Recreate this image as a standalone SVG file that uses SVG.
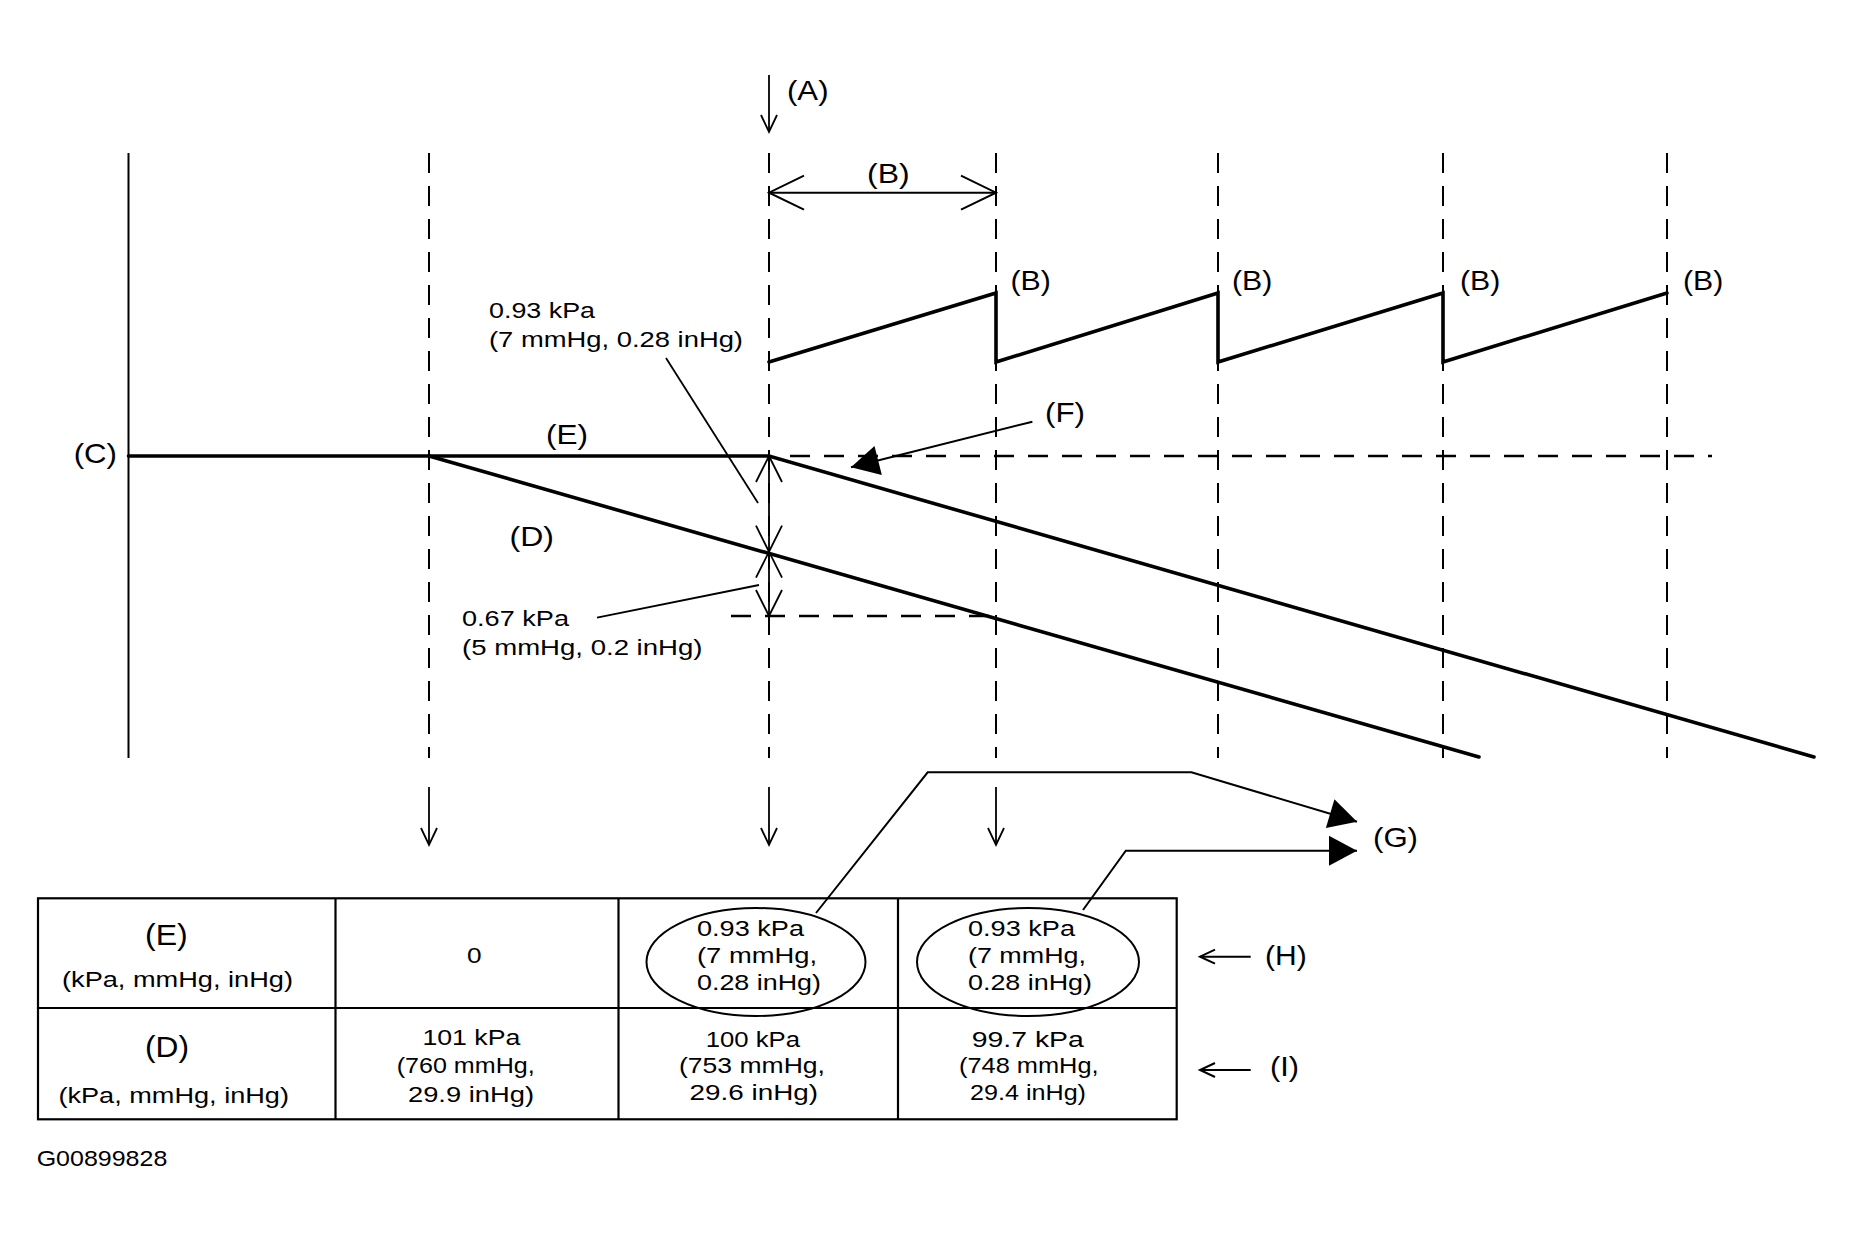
<svg xmlns="http://www.w3.org/2000/svg" width="1853" height="1242" viewBox="0 0 1853 1242">
<style>
.t{font-family:"Liberation Sans",Arial,Helvetica,sans-serif;font-size:22px;fill:#000}
.l{font-family:"Liberation Sans",Arial,Helvetica,sans-serif;font-size:28px;fill:#000}
.h{font-family:"Liberation Sans",Arial,Helvetica,sans-serif;font-size:29px;fill:#000}
.thick{stroke:#000;stroke-width:3.6;fill:none;stroke-linecap:round;stroke-linejoin:miter}
.thin{stroke:#000;stroke-width:2;fill:none}
.lead{stroke:#000;stroke-width:1.8;fill:none}
.dash{stroke:#000;stroke-width:2;fill:none;stroke-dasharray:20 13}
.dashh{stroke:#000;stroke-width:2.6;fill:none;stroke-dasharray:20 14}
.box{stroke:#000;stroke-width:2.2;fill:none}
</style>
<defs>
<marker id="vS" markerUnits="userSpaceOnUse" markerWidth="24" markerHeight="24" viewBox="-20 -12 24 24" refX="0" refY="0" orient="auto" overflow="visible"><path d="M-17,-8 L0,0 L-17,8" fill="none" stroke="#000" stroke-width="1.8"/></marker>
<marker id="vB" markerUnits="userSpaceOnUse" markerWidth="40" markerHeight="40" viewBox="-38 -20 40 40" refX="0" refY="0" orient="auto-start-reverse" overflow="visible"><path d="M-35,-17 L0,0 L-35,17" fill="none" stroke="#000" stroke-width="2"/></marker>
<marker id="vD" markerUnits="userSpaceOnUse" markerWidth="30" markerHeight="30" viewBox="-28 -15 30 30" refX="0" refY="0" orient="auto-start-reverse" overflow="visible"><path d="M-26,-13 L0,0 L-26,13" fill="none" stroke="#000" stroke-width="1.8"/></marker>
<marker id="vH" markerUnits="userSpaceOnUse" markerWidth="20" markerHeight="20" viewBox="-18 -10 20 20" refX="0" refY="0" orient="auto" overflow="visible"><path d="M-15,-7 L0,0 L-15,7" fill="none" stroke="#000" stroke-width="2"/></marker>
<marker id="fT" markerUnits="userSpaceOnUse" markerWidth="32" markerHeight="32" viewBox="-30 -16 32 32" refX="0" refY="0" orient="auto" overflow="visible"><path d="M-28,-15 L0,0 L-28,15 Z" fill="#000"/></marker>
</defs>

<g id="axes">
<line class="thin" x1="128.5" y1="153" x2="128.5" y2="758"/>
<line class="dash" x1="429" y1="153" x2="429" y2="758"/>
<line class="dash" x1="769" y1="153" x2="769" y2="758"/>
<line class="dash" x1="996" y1="153" x2="996" y2="758"/>
<line class="dash" x1="1218" y1="153" x2="1218" y2="758"/>
<line class="dash" x1="1443" y1="153" x2="1443" y2="758"/>
<line class="dash" x1="1667" y1="153" x2="1667" y2="758"/>
<line class="dashh" x1="790" y1="456" x2="1712" y2="456"/>
<line class="dashh" x1="731" y1="616" x2="994" y2="616"/>
</g>

<g id="curves">
<path id="curve-E" class="thick" d="M128.5,456 L769,456 L1814,757"/>
<path id="curve-D" class="thick" d="M429,456 L1479,757"/>
<path id="sawtooth" class="thick" d="M769,362 L996,293 L996,362 L1218,293 L1218,362 L1443,293 L1443,362 L1667,293"/>
</g>

<g id="connectors">
<line class="lead" x1="769" y1="75" x2="769" y2="132" marker-end="url(#vS)"/>
<line class="thin" x1="769" y1="192.7" x2="996" y2="192.7" marker-start="url(#vB)" marker-end="url(#vB)"/>
<line class="lead" x1="769" y1="456" x2="769" y2="551.7" marker-start="url(#vD)" marker-end="url(#vD)"/>
<line class="lead" x1="769" y1="551.7" x2="769" y2="616" marker-start="url(#vD)" marker-end="url(#vD)"/>
<line class="lead" x1="666" y1="358" x2="758" y2="503"/>
<line class="lead" x1="597" y1="617.7" x2="759" y2="585"/>
<line class="thin" x1="1032.4" y1="421.7" x2="851" y2="467.3" marker-end="url(#fT)"/>
<line class="lead" x1="429" y1="787" x2="429" y2="845" marker-end="url(#vS)"/>
<line class="lead" x1="769" y1="787" x2="769" y2="845" marker-end="url(#vS)"/>
<line class="lead" x1="996" y1="787" x2="996" y2="845" marker-end="url(#vS)"/>
<polyline class="thin" points="816,913 927.7,772.3 1191.4,772.3 1357,821.7" marker-end="url(#fT)"/>
<polyline class="thin" points="1083,910 1125.8,850.7 1357,850.7" marker-end="url(#fT)"/>
<line class="thin" x1="1250.7" y1="956.7" x2="1200" y2="956.7" marker-end="url(#vH)"/>
<line class="thin" x1="1250.7" y1="1070" x2="1200" y2="1070" marker-end="url(#vH)"/>
</g>

<g id="labels">
<text class="l" x="787" y="100" textLength="41.5" lengthAdjust="spacingAndGlyphs">(A)</text>
<text class="l" x="867" y="183" textLength="42.6" lengthAdjust="spacingAndGlyphs">(B)</text>
<text class="l" x="1010.5" y="290" textLength="40.3" lengthAdjust="spacingAndGlyphs">(B)</text>
<text class="l" x="1232" y="290" textLength="40.3" lengthAdjust="spacingAndGlyphs">(B)</text>
<text class="l" x="1460" y="290" textLength="40.3" lengthAdjust="spacingAndGlyphs">(B)</text>
<text class="l" x="1683" y="290" textLength="40.3" lengthAdjust="spacingAndGlyphs">(B)</text>
<text class="l" x="73.7" y="463" textLength="43.3" lengthAdjust="spacingAndGlyphs">(C)</text>
<text class="l" x="546" y="443.5" textLength="42" lengthAdjust="spacingAndGlyphs">(E)</text>
<text class="l" x="509.6" y="546" textLength="44.4" lengthAdjust="spacingAndGlyphs">(D)</text>
<text class="l" x="1045" y="421.7" textLength="40" lengthAdjust="spacingAndGlyphs">(F)</text>
<text class="l" x="1373" y="847" textLength="45" lengthAdjust="spacingAndGlyphs">(G)</text>
<text class="l" x="1265" y="965" textLength="41.7" lengthAdjust="spacingAndGlyphs">(H)</text>
<text class="l" x="1270" y="1076" textLength="29" lengthAdjust="spacingAndGlyphs">(I)</text>
<text class="t" x="489" y="318" textLength="106" lengthAdjust="spacingAndGlyphs">0.93 kPa</text>
<text class="t" x="489" y="347" textLength="254" lengthAdjust="spacingAndGlyphs">(7 mmHg, 0.28 inHg)</text>
<text class="t" x="462" y="625.5" textLength="107" lengthAdjust="spacingAndGlyphs">0.67 kPa</text>
<text class="t" x="462" y="655" textLength="240.5" lengthAdjust="spacingAndGlyphs">(5 mmHg, 0.2 inHg)</text>
<text class="t" x="36.7" y="1166" textLength="130.6" lengthAdjust="spacingAndGlyphs">G00899828</text>
</g>

<g id="table">
<rect class="box" x="38" y="898.3" width="1138.7" height="221"/>
<line class="box" x1="38" y1="1008" x2="1176.7" y2="1008"/>
<line class="box" x1="335.5" y1="898.3" x2="335.5" y2="1119.3"/>
<line class="box" x1="618.5" y1="898.3" x2="618.5" y2="1119.3"/>
<line class="box" x1="898" y1="898.3" x2="898" y2="1119.3"/>
<ellipse class="thin" cx="756" cy="962" rx="109.5" ry="54"/>
<ellipse class="thin" cx="1028" cy="962" rx="111" ry="54"/>

<text class="h" x="145" y="945" textLength="42.8" lengthAdjust="spacingAndGlyphs">(E)</text>
<text class="t" x="62" y="986.7" textLength="231" lengthAdjust="spacingAndGlyphs">(kPa, mmHg, inHg)</text>
<text class="h" x="145" y="1056.7" textLength="44" lengthAdjust="spacingAndGlyphs">(D)</text>
<text class="t" x="58.4" y="1103" textLength="230.6" lengthAdjust="spacingAndGlyphs">(kPa, mmHg, inHg)</text>

<text class="t" x="467" y="963" textLength="14.6" lengthAdjust="spacingAndGlyphs">0</text>

<text class="t" x="697" y="936" textLength="107" lengthAdjust="spacingAndGlyphs">0.93 kPa</text>
<text class="t" x="697" y="963" textLength="120" lengthAdjust="spacingAndGlyphs">(7 mmHg,</text>
<text class="t" x="697" y="990" textLength="124" lengthAdjust="spacingAndGlyphs">0.28 inHg)</text>

<text class="t" x="968" y="936" textLength="107" lengthAdjust="spacingAndGlyphs">0.93 kPa</text>
<text class="t" x="968" y="963" textLength="118" lengthAdjust="spacingAndGlyphs">(7 mmHg,</text>
<text class="t" x="968" y="990" textLength="124" lengthAdjust="spacingAndGlyphs">0.28 inHg)</text>

<text class="t" x="422.4" y="1044.5" textLength="98" lengthAdjust="spacingAndGlyphs">101 kPa</text>
<text class="t" x="396.7" y="1072.7" textLength="138" lengthAdjust="spacingAndGlyphs">(760 mmHg,</text>
<text class="t" x="408" y="1101.5" textLength="126" lengthAdjust="spacingAndGlyphs">29.9 inHg)</text>

<text class="t" x="705.7" y="1046.5" textLength="94.3" lengthAdjust="spacingAndGlyphs">100 kPa</text>
<text class="t" x="679" y="1073" textLength="146" lengthAdjust="spacingAndGlyphs">(753 mmHg,</text>
<text class="t" x="689.6" y="1099.5" textLength="128.4" lengthAdjust="spacingAndGlyphs">29.6 inHg)</text>

<text class="t" x="971.8" y="1046.5" textLength="112" lengthAdjust="spacingAndGlyphs">99.7 kPa</text>
<text class="t" x="959" y="1073" textLength="139.6" lengthAdjust="spacingAndGlyphs">(748 mmHg,</text>
<text class="t" x="970" y="1099.5" textLength="116" lengthAdjust="spacingAndGlyphs">29.4 inHg)</text>
</g>
</svg>
